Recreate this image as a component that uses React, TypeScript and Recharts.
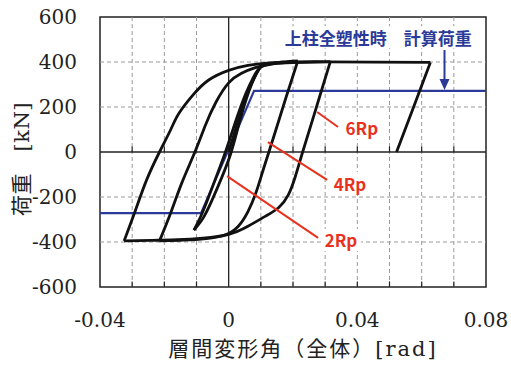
import {
  Label,
  Line,
  LineChart,
  ReferenceArea,
  ReferenceDot,
  ReferenceLine,
  XAxis,
  YAxis,
} from "recharts";

// axis ticks and grid
const X_TICKS = [-0.04, 0, 0.04, 0.08];
const Y_TICKS = [-600, -400, -200, 0, 200, 400, 600];
const X_GRID = [-0.03, -0.02, -0.01, 0.01, 0.02, 0.03, 0.04, 0.05, 0.06, 0.07];
const Y_GRID = [-400, -200, 200, 400];

// calculated load when upper column fully plastic [drift, kN]
const calcLoad = [
  [-0.04, -272],
  [-0.0086, -272],
  [0.0079, 272],
  [0.08, 272],
];

// hysteresis branches [drift rad, load kN], split at each peak
const first2Rp = [[0, 0], [0.003, 140], [0.0065, 285], [0.0098, 378]];
const unload2Rp = [
  [0.0098, 378], [0.0085, 345], [0.0063, 270], [0.0035, 140], [0.0008, 0],
  [-0.0022, -115], [-0.0052, -215], [-0.008, -295], [-0.0108, -347],
];
const to4Rp = [
  [-0.0108, -347], [-0.0088, -290], [-0.0065, -210], [-0.004, -115],
  [-0.001, 0], [0.0025, 150], [0.0055, 265], [0.0078, 335], [0.0098, 375],
  [0.013, 392], [0.017, 400], [0.0215, 405],
];
const from4Rp = [
  [0.0215, 405], [0.018, 250], [0.0145, 90], [0.0125, 0], [0.0105, -90],
  [0.0085, -180], [0.006, -265], [0.003, -330], [-0.001, -368],
  [-0.007, -385], [-0.014, -392], [-0.0215, -395],
];
const to6Rp = [
  [-0.0215, -395], [-0.018, -270], [-0.0145, -135], [-0.0105, 0],
  [-0.0072, 120], [-0.004, 220], [0, 307], [0.004, 350], [0.0083, 375],
  [0.013, 390], [0.02, 397], [0.0316, 402],
];
const from6Rp = [
  [0.0316, 402], [0.0273, 200], [0.023, 0], [0.0207, -110], [0.0185, -192],
  [0.0155, -248], [0.0115, -285], [0.006, -330], [0, -366], [-0.008, -383],
  [-0.016, -390], [-0.024, -393], [-0.0325, -395],
];
const finalPush = [
  [-0.0325, -395], [-0.029, -260], [-0.0255, -124], [-0.0215, 0],
  [-0.018, 100], [-0.0154, 173], [-0.011, 255], [-0.0062, 320], [0, 363],
  [0.006, 385], [0.012, 395], [0.02, 400], [0.03, 401], [0.045, 399],
  [0.0627, 398],
];
const finalUnload = [[0.0627, 398], [0.0575, 200], [0.0522, 0]];

// annotations
const arrowX = 0.0671;
const notes = [
  { text: "6Rp", from: [0.0275, 178], to: [0.034, 111], at: [0.0414, 107] },
  { text: "4Rp", from: [0.0122, 44], to: [0.0306, -124], at: [0.0377, -138] },
  { text: "2Rp", from: [-0.0005, -107], to: [0.0278, -382], at: [0.0349, -391] },
];

const BLUE = "#2b3a98";
const RED = "#e8321f";
const SERIF = "'DejaVu Serif', 'Noto Sans CJK JP', serif";
const JP = "'Noto Sans CJK JP', sans-serif";

const pts = (a: number[][]) => a.map(([x, y]) => ({ x, y }));
const branches = [first2Rp, unload2Rp, to4Rp, from4Rp, to6Rp, from6Rp, finalPush, finalUnload];

const boxText =
  (text: string, color: string, size: number, w: number) => (p: any) => (
    <g>
      <rect x={p.cx - w / 2} y={p.cy - size * 0.65} width={w} height={size * 1.3} fill="#fff" />
      <text
        x={p.cx}
        y={p.cy}
        textAnchor="middle"
        dominantBaseline="central"
        fill={color}
        fontSize={size}
        fontWeight={700}
        fontFamily={JP}
      >
        {text}
      </text>
    </g>
  );

const arrowHead = (p: any) => (
  <path d={`M${p.cx},${p.cy} L${p.cx - 5},${p.cy - 11} L${p.cx + 5},${p.cy - 11} Z`} fill={BLUE} />
);

export default function App() {
  return (
    <div style={{ position: "absolute", left: 0, top: 0, background: "#fff" }}>
      <LineChart width={511} height={369} margin={{ top: 17, right: 25, left: 0, bottom: 0 }}>
        <XAxis
          type="number"
          dataKey="x"
          domain={[-0.04, 0.08]}
          ticks={X_TICKS}
          allowDataOverflow
          axisLine={false}
          tickLine={false}
          tickSize={0}
          tickMargin={26}
          height={82}
          tickFormatter={(v: number) => (v === 0 ? "0" : v.toFixed(2))}
          tick={{ fill: "#222", fontSize: 20, fontFamily: SERIF }}
        >
          <Label
            content={({ viewBox }: any) => (
              <text
                x={viewBox.x + viewBox.width / 2 + 10}
                y={viewBox.y + viewBox.height - 13}
                textAnchor="middle"
                fontSize={21}
                letterSpacing={2}
                fontFamily={SERIF}
                fill="#222"
              >
                層間変形角（全体）[rad]
              </text>
            )}
          />
        </XAxis>
        <YAxis
          type="number"
          domain={[-600, 600]}
          ticks={Y_TICKS}
          allowDataOverflow
          axisLine={false}
          tickLine={false}
          tickSize={0}
          tickMargin={23}
          width={100}
          tick={{ fill: "#222", fontSize: 20, fontFamily: SERIF }}
        >
          <Label
            content={({ viewBox }: any) => {
              const cx = viewBox.x + 22;
              const cy = viewBox.y + viewBox.height / 2 + 7;
              return (
                <text
                  x={cx}
                  y={cy}
                  transform={`rotate(-90 ${cx} ${cy})`}
                  textAnchor="middle"
                  dominantBaseline="central"
                  fontSize={21}
                  letterSpacing={0.5}
                  fontFamily={SERIF}
                  fill="#222"
                >
                  荷重　[kN]
                </text>
              );
            }}
          />
        </YAxis>

        {X_GRID.map((v) => (
          <ReferenceLine key={`gx${v}`} x={v} stroke="#9a9a9a" strokeDasharray="4 3" />
        ))}
        {Y_GRID.map((v) => (
          <ReferenceLine key={`gy${v}`} y={v} stroke="#9a9a9a" strokeDasharray="4 3" />
        ))}
        <ReferenceLine x={0} stroke="#222" strokeWidth={1.3} />
        <ReferenceLine y={0} stroke="#222" strokeWidth={1.3} />
        {X_GRID.map((v) => (
          <ReferenceLine
            key={`t0${v}`}
            segment={[{ x: v, y: 0 }, { x: v, y: 25 }]}
            stroke="#222"
            strokeWidth={1.2}
          />
        ))}
        {X_GRID.map((v) => (
          <ReferenceLine
            key={`tb${v}`}
            segment={[{ x: v, y: -600 }, { x: v, y: -575 }]}
            stroke="#222"
            strokeWidth={1.2}
          />
        ))}

        <Line
          data={pts(calcLoad)}
          dataKey="y"
          type="linear"
          stroke={BLUE}
          strokeWidth={2.2}
          dot={false}
          isAnimationActive={false}
        />
        {branches.map((b, i) => (
          <Line
            key={i}
            data={pts(b)}
            dataKey="y"
            type="natural"
            stroke="#111"
            strokeWidth={2.8}
            strokeLinejoin="round"
            dot={false}
            isAnimationActive={false}
          />
        ))}

        {notes.map((n) => (
          <ReferenceLine
            key={`l${n.text}`}
            segment={[
              { x: n.from[0], y: n.from[1] },
              { x: n.to[0], y: n.to[1] },
            ]}
            stroke={RED}
            strokeWidth={2}
            ifOverflow="visible"
          />
        ))}
        {notes.map((n) => (
          <ReferenceDot
            key={`t${n.text}`}
            x={n.at[0]}
            y={n.at[1]}
            r={0}
            ifOverflow="visible"
            shape={boxText(n.text, RED, 17, 40)}
          />
        ))}

        <ReferenceDot
          x={0.0465}
          y={510}
          r={0}
          ifOverflow="visible"
          shape={boxText("上柱全塑性時　計算荷重", BLUE, 17, 196)}
        />
        <ReferenceLine
          segment={[
            { x: arrowX, y: 453 },
            { x: arrowX, y: 320 },
          ]}
          stroke={BLUE}
          strokeWidth={2}
        />
        <ReferenceDot x={arrowX} y={276} r={0} shape={arrowHead} />

        <ReferenceArea
          x1={-0.04}
          x2={0.08}
          y1={-600}
          y2={600}
          fill="none"
          stroke="#222"
          strokeWidth={1.5}
          ifOverflow="visible"
        />
      </LineChart>
    </div>
  );
}
